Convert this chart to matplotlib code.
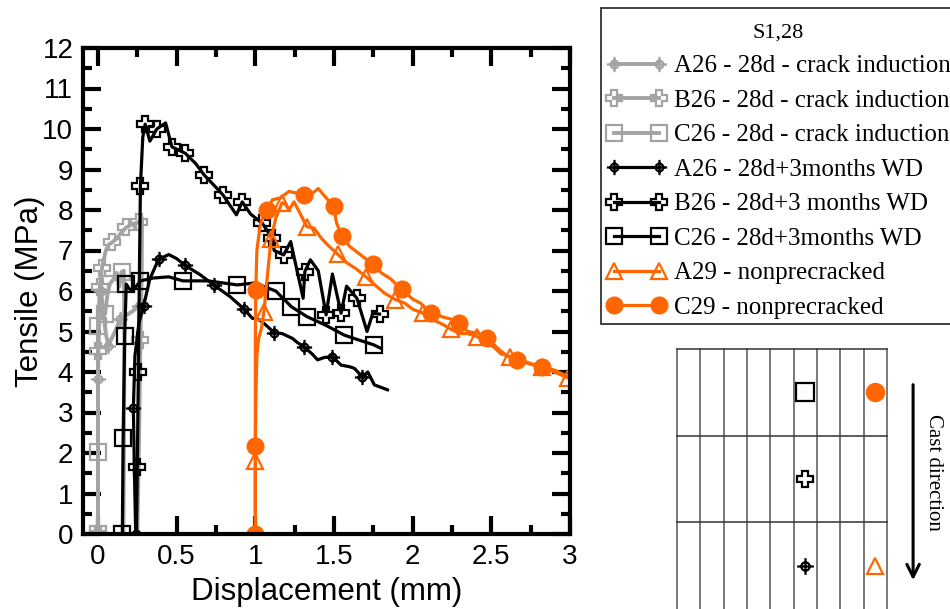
import numpy as np
import matplotlib.pyplot as plt
from matplotlib.path import Path
from matplotlib.ticker import MultipleLocator

# displacement (mm) / tensile stress (MPa); *_mk = indices of the marked points
a26_28d_x = [0.0, 0.0, 0.0, 0.005, 0.012, 0.02, 0.035, 0.05, 0.066, 0.09, 0.12, 0.14, 0.18, 0.22, 0.26, 0.265, 0.255, 0.245]
a26_28d_y = [0.0, 2.0, 3.83, 5.0, 5.7, 6.0, 5.4, 4.95, 4.65, 4.85, 5.1, 5.3, 5.4, 5.5, 5.64, 4.5, 2.0, 0.0]
a26_28d_mk = [0, 2, 5, 8, 11, 14]

b26_28d_x = [0.0, 0.0, 0.0, 0.005, 0.012, 0.025, 0.05, 0.07, 0.09, 0.12, 0.15, 0.18, 0.22, 0.26, 0.28, 0.278, 0.27, 0.26, 0.25]
b26_28d_y = [0.0, 2.5, 4.53, 5.5, 6.1, 6.56, 7.0, 7.15, 7.2, 7.3, 7.45, 7.57, 7.65, 7.7, 7.8, 6.5, 4.8, 2.0, 0.0]
b26_28d_mk = [0, 2, 4, 5, 8, 11, 13, 16]

c26_28d_x = [0.0, 0.0, 0.0, 0.0, 0.02, 0.045, 0.06, 0.075, 0.1, 0.12, 0.135, 0.15, 0.165, 0.168, 0.165, 0.162]
c26_28d_y = [0.0, 2.02, 4.0, 5.14, 5.5, 5.43, 5.9, 6.17, 6.3, 6.45, 6.1, 6.47, 6.5, 4.5, 2.0, 0.0]
c26_28d_mk = [0, 1, 3, 5, 7, 11]

a26_wd_x = [0.24, 0.232, 0.225, 0.235, 0.26, 0.29, 0.33, 0.385, 0.45, 0.5, 0.555, 0.65, 0.736, 0.84, 0.93, 0.98,
            1.03, 1.07, 1.12, 1.17, 1.236, 1.27, 1.31, 1.36, 1.396, 1.44, 1.49, 1.545, 1.6, 1.63, 1.68, 1.715,
            1.757, 1.8, 1.84]
a26_wd_y = [0.0, 1.5, 3.1, 4.4, 5.2, 5.63, 6.3, 6.78, 6.9, 6.8, 6.63, 6.4, 6.15, 5.86, 5.55, 5.33,
            5.28, 5.15, 4.97, 4.95, 4.83, 4.72, 4.62, 4.45, 4.3, 4.36, 4.38, 4.17, 4.13, 4.09, 3.88, 4.0,
            3.68, 3.62, 3.56]
a26_wd_mk = [0, 2, 5, 7, 10, 12, 14, 18, 22, 26, 30]

b26_wd_x = [0.245, 0.25, 0.257, 0.263, 0.27, 0.285, 0.30, 0.33, 0.374, 0.43, 0.47, 0.555, 0.62, 0.676, 0.74,
            0.795, 0.88, 0.917, 0.97, 1.045, 1.108, 1.12, 1.18, 1.225, 1.304, 1.315, 1.35, 1.40, 1.45, 1.49,
            1.545, 1.58, 1.646, 1.71, 1.747, 1.79]
b26_wd_y = [0.0, 1.66, 4.0, 6.3, 8.6, 9.8, 10.12, 9.7, 10.0, 10.15, 9.56, 9.4, 9.15, 8.86, 8.6,
            8.37, 7.88, 8.2, 7.9, 7.67, 7.3, 7.0, 6.89, 7.22, 5.82, 6.48, 6.77, 6.5, 5.41, 6.42,
            5.45, 6.12, 5.82, 5.0, 5.45, 5.43]
b26_wd_mk = [1, 2, 4, 6, 8, 10, 11, 13, 15, 17, 19, 20, 22, 25, 28, 30, 32, 35]

c26_wd_x = [0.155, 0.16, 0.17, 0.18, 0.2, 0.22, 0.25, 0.27, 0.35, 0.45, 0.54, 0.7, 0.885, 1.0, 1.06, 1.13,
            1.23, 1.327, 1.45, 1.566, 1.65, 1.753, 1.8]
c26_wd_y = [0.0, 2.36, 4.9, 6.17, 6.05, 6.0, 6.15, 6.25, 6.32, 6.35, 6.25, 6.25, 6.15, 6.2, 6.1, 6.0,
            5.61, 5.37, 5.15, 4.91, 4.8, 4.67, 4.58]
c26_wd_mk = [0, 1, 2, 3, 7, 10, 12, 15, 16, 17, 19, 21]

a29_x = [1.0, 1.0, 1.003, 1.01, 1.02, 1.04, 1.055, 1.08, 1.10, 1.13, 1.17, 1.19, 1.214, 1.246, 1.28, 1.327,
         1.374, 1.42, 1.47, 1.523, 1.58, 1.64, 1.704, 1.76, 1.82, 1.889, 1.95, 2.0, 2.066, 2.12, 2.18,
         2.246, 2.3, 2.35, 2.41, 2.47, 2.52, 2.56, 2.62, 2.68, 2.74, 2.82, 2.9, 2.99]
a29_y = [0.0, 1.81, 3.3, 4.4, 4.8, 5.1, 5.49, 6.5, 7.28, 7.8, 8.18, 8.15, 8.0, 8.2, 7.95, 7.59,
         7.55, 7.3, 7.1, 6.91, 6.7, 6.55, 6.35, 6.15, 5.95, 5.79, 5.7, 5.55, 5.45, 5.3, 5.2,
         5.05, 4.95, 4.95, 4.87, 4.75, 4.6, 4.45, 4.38, 4.3, 4.2, 4.12, 4.0, 3.85]
a29_mk = [1, 6, 8, 10, 15, 19, 22, 25, 28, 31, 34, 38, 41, 43]

c29_x = [1.0, 1.0, 1.0, 1.003, 1.01, 1.03, 1.05, 1.077, 1.108, 1.16, 1.214, 1.26, 1.31, 1.36, 1.40, 1.45,
         1.497, 1.515, 1.548, 1.6, 1.65, 1.7, 1.746, 1.8, 1.86, 1.93, 2.0, 2.05, 2.114, 2.2, 2.25,
         2.295, 2.35, 2.42, 2.47, 2.55, 2.6, 2.66, 2.72, 2.82, 2.9, 2.98]
c29_y = [0.0, 2.17, 4.5, 6.03, 7.0, 7.6, 7.85, 8.0, 8.25, 8.3, 8.46, 8.42, 8.36, 8.4, 8.53, 8.3,
         8.1, 7.7, 7.36, 7.1, 6.95, 6.8, 6.66, 6.45, 6.3, 6.04, 5.8, 5.7, 5.46, 5.35, 5.3,
         5.22, 5.0, 4.95, 4.85, 4.55, 4.4, 4.3, 4.25, 4.12, 4.05, 3.9]
c29_mk = [0, 1, 3, 7, 12, 16, 18, 22, 25, 28, 31, 34, 37, 39]

# specimen slots in the beam sketch (column, row, series)
slot_col = [5.5, 8.5, 5.5, 5.5, 8.5]
slot_row = [0.5, 0.5, 1.5, 2.5, 2.5]
slot_key = ['C26', 'C29', 'B26', 'A26', 'A29']

GRAY = '#a3a3a3'
ORANGE = '#ff6600'

# circle with a cross through it
_circ = Path.unit_circle()
_verts = np.concatenate([_circ.vertices * 0.5, [[-1, 0], [1, 0], [0, -1], [0, 1]]])
_codes = np.concatenate([_circ.codes, [Path.MOVETO, Path.LINETO, Path.MOVETO, Path.LINETO]])
crosshair = Path(_verts, _codes)

styles = {
    'A26': dict(marker=crosshair, ms=11, mfc='none', mew=1.6),
    'B26': dict(marker='P', ms=11, mfc='none', mew=1.6),
    'C26': dict(marker='s', ms=12, mfc='none', mew=1.6),
    'A29': dict(marker='^', ms=11, mfc='none', mew=1.6),
    'C29': dict(marker='o', ms=12, mew=1.0),
}

plt.rcParams['font.family'] = ['Liberation Sans', 'DejaVu Sans']

fig = plt.figure(figsize=(9.5, 6.09), dpi=100)
ax = fig.add_axes([83 / 950, 1 - 534 / 609, (570 - 83) / 950, (534 - 48) / 609])

series = [
    (a26_28d_x, a26_28d_y, a26_28d_mk, 'A26', GRAY, 2.8, 'A26 - 28d - crack induction'),
    (b26_28d_x, b26_28d_y, b26_28d_mk, 'B26', GRAY, 2.8, 'B26 - 28d - crack induction'),
    (c26_28d_x, c26_28d_y, c26_28d_mk, 'C26', GRAY, 2.8, 'C26 - 28d - crack induction'),
    (a26_wd_x, a26_wd_y, a26_wd_mk, 'A26', 'black', 2.3, 'A26 - 28d+3months WD'),
    (b26_wd_x, b26_wd_y, b26_wd_mk, 'B26', 'black', 2.3, 'B26 - 28d+3 months WD'),
    (c26_wd_x, c26_wd_y, c26_wd_mk, 'C26', 'black', 2.3, 'C26 - 28d+3months WD'),
    (a29_x, a29_y, a29_mk, 'A29', ORANGE, 2.3, 'A29 - nonprecracked'),
    (c29_x, c29_y, c29_mk, 'C29', ORANGE, 2.3, 'C29 - nonprecracked'),
]

for x, y, mk, key, col, lw, label in series:
    ax.plot(x, y, color=col, lw=lw, markevery=mk, mec=col, label=label, **styles[key])

ax.set_xlim(-0.095, 3.0)
ax.set_ylim(0, 12)
ax.xaxis.set_major_locator(MultipleLocator(0.5))
ax.xaxis.set_minor_locator(MultipleLocator(0.25))
ax.yaxis.set_major_locator(MultipleLocator(1))
ax.yaxis.set_minor_locator(MultipleLocator(0.5))
ax.set_xticks([0, 0.5, 1, 1.5, 2, 2.5, 3], ['0', '0.5', '1', '1.5', '2', '2.5', '3'])
ax.tick_params(which='both', direction='in', top=True, right=True, width=3, labelsize=20, pad=7)
ax.tick_params(which='major', length=13)
ax.tick_params(which='minor', length=6.5)
for s in ax.spines.values():
    s.set_linewidth(3)
ax.set_xlabel('Displacement (mm)', fontsize=22.5, labelpad=5)
ax.set_ylabel('Tensile (MPa)', fontsize=22.5, labelpad=-2)

leg = fig.legend(loc='upper left', bbox_to_anchor=(601 / 950, 1 - 8 / 609), bbox_transform=fig.transFigure,
                 borderaxespad=0, numpoints=2, handlelength=2.4, handletextpad=0.3, borderpad=0.2,
                 labelspacing=0.48, fancybox=False, framealpha=1, edgecolor='#333333',
                 prop={'family': 'Liberation Serif', 'size': 18},
                 title='\nS1,28', title_fontproperties={'family': 'Liberation Serif', 'size': 16})
leg.get_title().set_linespacing(0.42)
leg.get_frame().set_linewidth(1.3)

# beam sketch with specimen positions
sk = fig.add_axes([677 / 950, 0, (950 - 677) / 950, (609 - 349) / 609])
sk.set_xlim(0, 273 / 23.33)
sk.set_ylim(3.0, 0)
sk.axis('off')
for c in range(10):
    sk.plot([c, c], [0, 3.0], color='#555555', lw=1.1, clip_on=False)
for r in range(3):
    sk.plot([0, 9], [r, r], color='#333333', lw=1.1, clip_on=False)
for c, r, key in zip(slot_col, slot_row, slot_key):
    col = ORANGE if key in ('A29', 'C29') else 'black'
    st = dict(styles[key])
    st['ms'] = st['ms'] + 1
    sk.plot([c], [r], color=col, mec=col, ls='none', clip_on=False, **st)
sk.annotate('', xy=(10.12, 2.7), xytext=(10.12, 0.38),
            arrowprops=dict(arrowstyle='->, head_length=0.9, head_width=0.45', color='black', lw=2.2))
sk.text(11.0, 1.42, 'Cast direction', rotation=-90, ha='center', va='center',
        family='Liberation Serif', fontsize=15)

fig.savefig('out.png', dpi=100)
